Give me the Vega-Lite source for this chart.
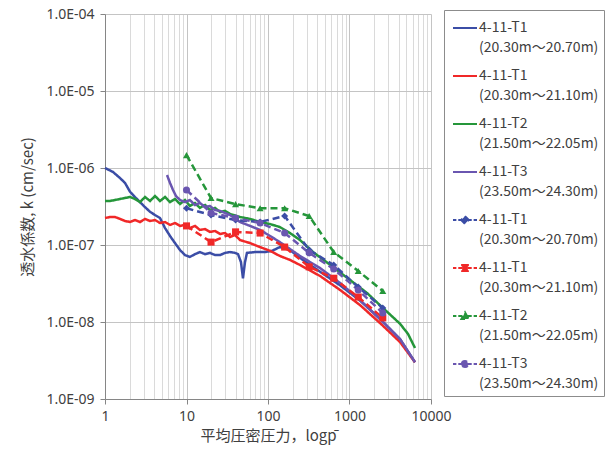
{
  "$schema": "https://vega.github.io/schema/vega-lite/v6.json",
  "width": 326,
  "height": 385,
  "autosize": {"type": "none"},
  "padding": {"left": 105, "top": 14, "right": 180, "bottom": 51},
  "background": "white",
  "config": {"view": {"stroke": null}, "font": "Noto Sans"},
  "data": {"values": [
    {"s":"s1","p":1,"k":1.0e-6},{"s":"s1","p":1.25,"k":8.9e-7},{"s":"s1","p":1.53,"k":7.4e-7},{"s":"s1","p":1.76,"k":6.4e-7},{"s":"s1","p":2.03,"k":4.9e-7},{"s":"s1","p":2.33,"k":4.2e-7},{"s":"s1","p":2.69,"k":3.6e-7},{"s":"s1","p":3.10,"k":3.1e-7},{"s":"s1","p":3.57,"k":2.7e-7},{"s":"s1","p":4.11,"k":2.45e-7},{"s":"s1","p":4.73,"k":2.24e-7},{"s":"s1","p":5.45,"k":1.66e-7},{"s":"s1","p":6.28,"k":1.31e-7},{"s":"s1","p":7.22,"k":1.06e-7},{"s":"s1","p":8.32,"k":8.6e-8},{"s":"s1","p":9.59,"k":7.4e-8},{"s":"s1","p":11.0,"k":7.0e-8},{"s":"s1","p":12.7,"k":7.6e-8},{"s":"s1","p":14.6,"k":8.1e-8},{"s":"s1","p":16.9,"k":7.6e-8},{"s":"s1","p":19.4,"k":7.9e-8},{"s":"s1","p":22.4,"k":7.4e-8},{"s":"s1","p":25.8,"k":7.4e-8},{"s":"s1","p":29.7,"k":7.9e-8},{"s":"s1","p":34.2,"k":8.1e-8},{"s":"s1","p":39.4,"k":7.9e-8},{"s":"s1","p":42.9,"k":7.6e-8},{"s":"s1","p":46.6,"k":6.0e-8},{"s":"s1","p":49.3,"k":3.7e-8},{"s":"s1","p":52.2,"k":6.0e-8},{"s":"s1","p":55.2,"k":7.9e-8},{"s":"s1","p":69.2,"k":8.1e-8},{"s":"s1","p":91.8,"k":8.1e-8},{"s":"s1","p":112,"k":8.4e-8},{"s":"s1","p":140,"k":9.4e-8},{"s":"s1","p":186,"k":8.6e-8},{"s":"s1","p":247,"k":6.8e-8},{"s":"s1","p":435,"k":4.5e-8},{"s":"s1","p":765,"k":3.0e-8},{"s":"s1","p":1345,"k":1.9e-8},{"s":"s1","p":2366,"k":1.1e-8},{"s":"s1","p":4165,"k":6.0e-9},{"s":"s1","p":6364,"k":3.0e-9},

    {"s":"s2","p":1,"k":2.24e-7},{"s":"s2","p":1.152,"k":2.31e-7},{"s":"s2","p":1.326,"k":2.31e-7},{"s":"s2","p":1.53,"k":2.18e-7},{"s":"s2","p":1.76,"k":2.05e-7},{"s":"s2","p":2.03,"k":1.99e-7},{"s":"s2","p":2.33,"k":2.11e-7},{"s":"s2","p":2.69,"k":1.99e-7},{"s":"s2","p":3.10,"k":2.18e-7},{"s":"s2","p":3.57,"k":2.05e-7},{"s":"s2","p":4.11,"k":2.11e-7},{"s":"s2","p":4.73,"k":1.93e-7},{"s":"s2","p":5.45,"k":1.99e-7},{"s":"s2","p":6.28,"k":1.82e-7},{"s":"s2","p":7.22,"k":1.93e-7},{"s":"s2","p":8.32,"k":1.77e-7},{"s":"s2","p":9.59,"k":1.82e-7},{"s":"s2","p":11.0,"k":1.66e-7},{"s":"s2","p":12.7,"k":1.77e-7},{"s":"s2","p":14.6,"k":1.57e-7},{"s":"s2","p":16.9,"k":1.61e-7},{"s":"s2","p":19.4,"k":1.48e-7},{"s":"s2","p":22.4,"k":1.52e-7},{"s":"s2","p":25.8,"k":1.39e-7},{"s":"s2","p":29.7,"k":1.43e-7},{"s":"s2","p":34.2,"k":1.27e-7},{"s":"s2","p":39.4,"k":1.35e-7},{"s":"s2","p":45.3,"k":1.16e-7},{"s":"s2","p":60.1,"k":1.06e-7},{"s":"s2","p":79.8,"k":9.4e-8},{"s":"s2","p":106,"k":8.4e-8},{"s":"s2","p":140,"k":7.2e-8},{"s":"s2","p":186,"k":6.4e-8},{"s":"s2","p":247,"k":5.5e-8},{"s":"s2","p":435,"k":3.96e-8},{"s":"s2","p":765,"k":2.61e-8},{"s":"s2","p":1345,"k":1.66e-8},{"s":"s2","p":2366,"k":9.7e-9},{"s":"s2","p":4165,"k":5.5e-9},{"s":"s2","p":6364,"k":3.0e-9},

    {"s":"s3","p":1,"k":3.73e-7},{"s":"s3","p":1.152,"k":3.73e-7},{"s":"s3","p":1.326,"k":3.84e-7},{"s":"s3","p":1.53,"k":3.96e-7},{"s":"s3","p":1.76,"k":4.08e-7},{"s":"s3","p":2.03,"k":4.2e-7},{"s":"s3","p":2.33,"k":3.96e-7},{"s":"s3","p":2.69,"k":3.61e-7},{"s":"s3","p":3.10,"k":4.2e-7},{"s":"s3","p":3.57,"k":3.73e-7},{"s":"s3","p":4.11,"k":4.33e-7},{"s":"s3","p":4.73,"k":3.73e-7},{"s":"s3","p":5.45,"k":4.2e-7},{"s":"s3","p":6.28,"k":3.61e-7},{"s":"s3","p":7.22,"k":3.96e-7},{"s":"s3","p":8.32,"k":3.41e-7},{"s":"s3","p":9.59,"k":3.84e-7},{"s":"s3","p":11.0,"k":3.21e-7},{"s":"s3","p":12.7,"k":3.51e-7},{"s":"s3","p":14.6,"k":3.03e-7},{"s":"s3","p":16.9,"k":3.31e-7},{"s":"s3","p":19.4,"k":2.85e-7},{"s":"s3","p":22.4,"k":3.03e-7},{"s":"s3","p":25.8,"k":2.68e-7},{"s":"s3","p":29.7,"k":2.77e-7},{"s":"s3","p":34.2,"k":2.53e-7},{"s":"s3","p":45.3,"k":2.31e-7},{"s":"s3","p":60.1,"k":2.18e-7},{"s":"s3","p":79.8,"k":1.99e-7},{"s":"s3","p":106,"k":1.87e-7},{"s":"s3","p":140,"k":1.71e-7},{"s":"s3","p":186,"k":1.43e-7},{"s":"s3","p":247,"k":1.16e-7},{"s":"s3","p":357,"k":8.1e-8},{"s":"s3","p":628,"k":5.18e-8},{"s":"s3","p":1014,"k":3.51e-8},{"s":"s3","p":1640,"k":2.38e-8},{"s":"s3","p":2576,"k":1.52e-8},{"s":"s3","p":4165,"k":9.5e-9},{"s":"s3","p":5224,"k":7.0e-9},{"s":"s3","p":6364,"k":4.6e-9},

    {"s":"s4","p":5.77,"k":8.11e-7},{"s":"s4","p":6.28,"k":6.38e-7},{"s":"s4","p":6.83,"k":5.18e-7},{"s":"s4","p":7.43,"k":4.33e-7},{"s":"s4","p":8.32,"k":3.84e-7},{"s":"s4","p":9.59,"k":3.61e-7},{"s":"s4","p":11.0,"k":3.84e-7},{"s":"s4","p":12.7,"k":3.31e-7},{"s":"s4","p":14.6,"k":3.51e-7},{"s":"s4","p":16.9,"k":3.12e-7},{"s":"s4","p":19.4,"k":3.21e-7},{"s":"s4","p":22.4,"k":2.85e-7},{"s":"s4","p":25.8,"k":2.77e-7},{"s":"s4","p":34.2,"k":2.45e-7},{"s":"s4","p":45.3,"k":1.99e-7},{"s":"s4","p":60.1,"k":1.77e-7},{"s":"s4","p":79.8,"k":1.57e-7},{"s":"s4","p":106,"k":1.31e-7},{"s":"s4","p":140,"k":1.09e-7},{"s":"s4","p":186,"k":8.87e-8},{"s":"s4","p":247,"k":7.2e-8},{"s":"s4","p":435,"k":5.02e-8},{"s":"s4","p":765,"k":3.21e-8},{"s":"s4","p":1345,"k":1.93e-8},{"s":"s4","p":2366,"k":1.09e-8},{"s":"s4","p":4165,"k":6.0e-9},{"s":"s4","p":6364,"k":3.0e-9},

    {"s":"s5","p":10,"k":3.0e-7},{"s":"s5","p":20,"k":2.45e-7},{"s":"s5","p":40,"k":2.11e-7},{"s":"s5","p":80,"k":1.99e-7},{"s":"s5","p":160,"k":2.38e-7},{"s":"s5","p":320,"k":8.6e-8},{"s":"s5","p":640,"k":5.5e-8},{"s":"s5","p":1280,"k":2.85e-8},{"s":"s5","p":2560,"k":1.52e-8},
    {"s":"s6","p":10,"k":1.77e-7},{"s":"s6","p":20,"k":1.09e-7},{"s":"s6","p":40,"k":1.48e-7},{"s":"s6","p":80,"k":1.43e-7},{"s":"s6","p":160,"k":9.4e-8},{"s":"s6","p":320,"k":5.2e-8},{"s":"s6","p":640,"k":3.7e-8},{"s":"s6","p":1280,"k":2.11e-8},{"s":"s6","p":2560,"k":1.13e-8},
    {"s":"s7","p":10,"k":1.47e-6},{"s":"s7","p":20,"k":4.07e-7},{"s":"s7","p":40,"k":3.4e-7},{"s":"s7","p":80,"k":3.0e-7},{"s":"s7","p":160,"k":3.0e-7},{"s":"s7","p":320,"k":2.38e-7},{"s":"s7","p":640,"k":8.1e-8},{"s":"s7","p":1280,"k":4.6e-8},{"s":"s7","p":2560,"k":2.53e-8},
    {"s":"s8","p":10,"k":5.18e-7},{"s":"s8","p":20,"k":2.61e-7},{"s":"s8","p":40,"k":2.24e-7},{"s":"s8","p":80,"k":1.93e-7},{"s":"s8","p":160,"k":1.43e-7},{"s":"s8","p":320,"k":7.9e-8},{"s":"s8","p":640,"k":4.88e-8},{"s":"s8","p":1280,"k":2.6e-8},{"s":"s8","p":2560,"k":1.31e-8}
  ]},
  "encoding": {
    "x": {
      "field": "p", "type": "quantitative",
      "scale": {"type": "log", "domain": [1, 10000], "nice": false},
      "axis": {
        "values": [1,2,3,4,5,6,7,8,9,10,20,30,40,50,60,70,80,90,100,200,300,400,500,600,700,800,900,1000,2000,3000,4000,5000,6000,7000,8000,9000,10000],
        "labelExpr": "abs(log(datum.value)/LN10 - round(log(datum.value)/LN10)) < 0.001 ? format(datum.value, 'd') : ''",
        "labelFlush": false, "labelOverlap": false,
        "labelFont": "Noto Sans", "labelFontSize": 14, "labelColor": "#404040", "labelPadding": 5,
        "tickSize": 5, "tickColor": "#868686",
        "tickOpacity": {"condition": {"test": "abs(log(datum.value)/LN10 - round(log(datum.value)/LN10)) < 0.001", "value": 1}, "value": 0},
        "domainColor": "#868686", "domainWidth": 1,
        "gridColor": {"condition": {"test": "abs(log(datum.value)/LN10 - round(log(datum.value)/LN10)) < 0.001", "value": "#c4c4c4"}, "value": "#dadada"},
        "gridWidth": 1,
        "title": "平均圧密圧力，logp̄",
        "titleFont": "Noto Sans CJK JP", "titleFontSize": 15, "titleFontWeight": "normal", "titleColor": "#404040", "titlePadding": 5
      }
    },
    "y": {
      "field": "k", "type": "quantitative",
      "scale": {"type": "log", "domain": [1e-9, 1e-4], "nice": false},
      "axis": {
        "values": [1e-9, 1e-8, 1e-7, 1e-6, 1e-5, 1e-4],
        "labelExpr": "'1.0E-0' + round(-log(datum.value)/LN10)",
        "labelFlush": false, "labelOverlap": false,
        "labelFont": "Noto Sans", "labelFontSize": 14, "labelColor": "#404040", "labelPadding": 6,
        "tickSize": 5, "tickColor": "#868686",
        "domainColor": "#868686", "gridColor": "#c4c4c4",
        "title": "透水係数, k (cm/sec)",
        "titleFont": "Noto Sans CJK JP", "titleFontSize": 15, "titleFontWeight": "normal", "titleColor": "#404040", "titlePadding": 10
      }
    },
    "color": {
      "field": "s", "type": "nominal",
      "scale": {
        "domain": ["s1","s2","s3","s4","s5","s6","s7","s8"],
        "range": ["#3B4DA6","#F02828","#25963A","#6A56B0","#3B4DA6","#F02828","#25963A","#6A56B0"]
      },
      "legend": {
        "title": null,
        "orient": "none", "legendX": 339, "legendY": -4,
        "padding": 5, "symbolOffset": 3,
        "symbolSize": 576, "symbolStrokeWidth": 2,
        "labelOffset": 1, "labelFont": "Noto Sans CJK JP", "labelFontSize": 14, "labelColor": "#404040", "labelLimit": 300,
        "labelBaseline": "middle",
        "rowPadding": 8,
        "strokeColor": "#8c8c8c", "fillColor": "white",
        "labelExpr": "{'s1':['4-11-T1','(20.30m～20.70m)'],'s2':['4-11-T1','(20.30m～21.10m)'],'s3':['4-11-T2','(21.50m～22.05m)'],'s4':['4-11-T3','(23.50m～24.30m)'],'s5':['4-11-T1','(20.30m～20.70m)'],'s6':['4-11-T1','(20.30m～21.10m)'],'s7':['4-11-T2','(21.50m～22.05m)'],'s8':['4-11-T3','(23.50m～24.30m)']}[datum.value]",
        "encode": {
          "symbols": {"update": {
            "shape": {"signal": "datum.value == 's5' ? 'M-1,0H-0.72M-0.56,0H-0.22M0.22,0H0.56M0.72,0H1M0,-0.32L0.32,0L0,0.32L-0.32,0Z' : datum.value == 's6' ? 'M-1,0H-0.72M-0.56,0H-0.22M0.22,0H0.56M0.72,0H1M-0.24,-0.24H0.24V0.24H-0.24Z' : datum.value == 's7' ? 'M-1,0H-0.72M-0.56,0H-0.22M0.22,0H0.56M0.72,0H1M0,-0.3L0.3,0.24L-0.3,0.24Z' : datum.value == 's8' ? 'M-1,0H-0.72M-0.56,0H-0.22M0.22,0H0.56M0.72,0H1M-0.26,0A0.26,0.26,0,1,1,0.26,0A0.26,0.26,0,1,1,-0.26,0Z' : 'M-1,0H1'"},
            "fill": {"signal": "scale('color', datum.value)"},
            "stroke": {"signal": "scale('color', datum.value)"},
            "strokeDash": {"value": []},
            "opacity": {"value": 1}
          }},
          "labels": {"update": {"lineHeight": {"value": 20}}}
        }
      }
    }
  },
  "layer": [
    {
      "mark": {"type": "line", "strokeWidth": 2.5},
      "encoding": {
        "strokeDash": {
          "field": "s", "type": "nominal",
          "scale": {"domain": ["s1","s2","s3","s4","s5","s6","s7","s8"], "range": [[1,0],[1,0],[1,0],[1,0],[7,4],[7,4],[7,4],[7,4]]},
          "legend": null
        }
      }
    },
    {
      "transform": [{"filter": {"field": "s", "oneOf": ["s5","s6","s7","s8"]}}],
      "mark": {"type": "point", "filled": true, "size": 50, "opacity": 1},
      "encoding": {
        "shape": {
          "field": "s", "type": "nominal",
          "scale": {"domain": ["s5","s6","s7","s8"], "range": ["diamond","square","triangle-up","circle"]},
          "legend": null
        }
      }
    }
  ]
}
